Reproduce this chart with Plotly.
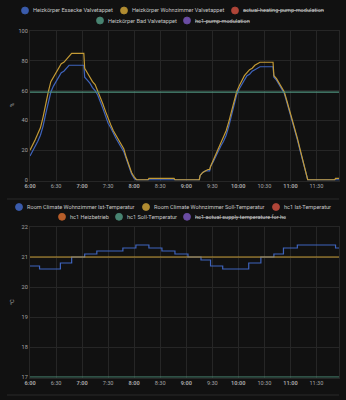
import plotly.graph_objects as go

W, H = 346, 400
DAY = "2024-01-15"
X_START, X_END = "6:00", "11:56"

TIME_TICKS = ["6:00", "6:30", "7:00", "7:30", "8:00", "8:30", "9:00",
              "9:30", "10:00", "10:30", "11:00", "11:30"]
VALVE_TICKS = [0, 20, 40, 60, 80, 100]
TEMP_TICKS = [17, 18, 19, 20, 21, 22]

# ---- valve positions (%) ----
ESSECKE = [("6:00", 16), ("6:03", 19), ("6:06", 22), ("6:09", 26), ("6:12", 30),
           ("6:15", 36), ("6:18", 44), ("6:21", 52), ("6:24", 59), ("6:27", 63),
           ("6:30", 66), ("6:33", 69), ("6:36", 72), ("6:39", 73), ("6:42", 75),
           ("6:45", 77), ("7:02", 77), ("7:03", 69), ("7:06", 67), ("7:09", 65),
           ("7:12", 62), ("7:15", 60), ("7:18", 57), ("7:21", 53), ("7:24", 48),
           ("7:27", 43), ("7:30", 38), ("7:33", 35), ("7:36", 31), ("7:39", 28),
           ("7:42", 25), ("7:45", 22), ("7:48", 19), ("7:51", 14), ("7:54", 9),
           ("7:57", 4), ("8:00", 1), ("8:02", 0), ("9:15", 0), ("9:16", 3),
           ("9:19", 5), ("9:22", 6), ("9:27", 6), ("9:28", 9), ("9:31", 12),
           ("9:34", 16), ("9:37", 20), ("9:40", 23), ("9:43", 26), ("9:46", 30),
           ("9:49", 36), ("9:52", 43), ("9:55", 51), ("9:58", 57), ("10:01", 61),
           ("10:04", 64), ("10:07", 67), ("10:10", 70), ("10:13", 71), ("10:16", 73),
           ("10:19", 74), ("10:22", 75), ("10:25", 76), ("10:40", 76), ("10:41", 69),
           ("10:44", 67), ("10:47", 64), ("10:50", 61), ("10:53", 58), ("10:56", 52),
           ("10:59", 46), ("11:02", 40), ("11:05", 33), ("11:08", 27), ("11:11", 20),
           ("11:14", 13), ("11:17", 6), ("11:20", 0), ("11:56", 0)]

WOHNZIMMER = [("6:00", 20), ("6:03", 23), ("6:06", 27), ("6:09", 31), ("6:12", 35),
              ("6:15", 42), ("6:18", 51), ("6:21", 59), ("6:24", 66), ("6:27", 69),
              ("6:30", 72), ("6:33", 75), ("6:36", 78), ("6:39", 79), ("6:42", 81),
              ("6:45", 83), ("6:48", 85), ("7:02", 85), ("7:03", 75), ("7:06", 72),
              ("7:09", 69), ("7:12", 66), ("7:15", 64), ("7:18", 60), ("7:21", 56),
              ("7:24", 51), ("7:27", 46), ("7:30", 41), ("7:33", 37), ("7:36", 33),
              ("7:39", 30), ("7:42", 27), ("7:45", 24), ("7:48", 21), ("7:51", 15),
              ("7:54", 10), ("7:57", 5), ("8:00", 2), ("8:03", 0), ("8:16", 0),
              ("8:17", 1), ("8:46", 1), ("8:47", 0), ("9:15", 0), ("9:16", 3),
              ("9:19", 5), ("9:22", 6), ("9:25", 7), ("9:27", 7), ("9:28", 9),
              ("9:31", 13), ("9:34", 17), ("9:37", 21), ("9:40", 24), ("9:43", 28),
              ("9:46", 33), ("9:49", 39), ("9:52", 46), ("9:55", 53), ("9:58", 59),
              ("10:01", 63), ("10:04", 67), ("10:07", 70), ("10:10", 72), ("10:13", 74),
              ("10:16", 75), ("10:19", 77), ("10:22", 78), ("10:25", 79), ("10:40", 79),
              ("10:41", 70), ("10:44", 68), ("10:47", 65), ("10:50", 62), ("10:53", 59),
              ("10:56", 53), ("10:59", 47), ("11:02", 41), ("11:05", 34), ("11:08", 28),
              ("11:11", 21), ("11:14", 14), ("11:17", 7), ("11:20", 0), ("11:51", 0),
              ("11:52", 1), ("11:56", 1)]

BAD = [("6:00", 59), ("11:56", 59)]

# ---- room temperatures (°C) ----
WZ_IST = [("6:00", 20.7), ("6:11", 20.6), ("6:35", 20.8), ("6:48", 21.0), ("7:03", 21.1),
          ("7:17", 21.2), ("7:47", 21.3), ("8:02", 21.4), ("8:17", 21.3), ("8:32", 21.2),
          ("8:47", 21.1), ("9:02", 21.0), ("9:17", 20.9), ("9:28", 20.7), ("9:42", 20.6),
          ("10:12", 20.8), ("10:26", 21.0), ("10:41", 21.1), ("10:52", 21.3), ("11:08", 21.4),
          ("11:52", 21.3), ("11:56", 21.3)]
WZ_SOLL = [("6:00", 21.0), ("11:56", 21.0)]
HC1_SOLL = [("6:00", 17.0), ("11:56", 17.0)]

BLUE, GOLD, RED = "#3f64bd", "#c39a35", "#c14b3d"
TEAL, PURPLE, ORANGE = "#4f917c", "#7453b3", "#c9662c"

# legend rows: (name, colour, hidden, circle x px, row y px)
VALVE_LEGEND = [
    ("Heizkörper Essecke Valvetappet", BLUE, False, 25, 10.5),
    ("Heizkörper Wohnzimmer Valvetappet", GOLD, False, 124, 10.5),
    ("actual-heating-pump-modulation", RED, True, 235, 10.5),
    ("Heizkörper Bad Valvetappet", TEAL, False, 100, 20.5),
    ("hc1-pump-modulation", PURPLE, True, 187, 20.5),
]
TEMP_LEGEND = [
    ("Room Climate Wohnzimmer Ist-Temperatur", BLUE, False, 19, 207),
    ("Room Climate Wohnzimmer Soll-Temperatur", GOLD, False, 146, 207),
    ("hc1 Ist-Temperatur", RED, False, 276, 207),
    ("hc1 Heizbetrieb", ORANGE, False, 62, 216.8),
    ("hc1 Soll-Temperatur", TEAL, False, 119, 216.8),
    ("hc1 actual supply temperature for hc", PURPLE, True, 187, 216.8),
]

BG = "#111111"
GRID = "#262626"
TICK_FONT = dict(family="Roboto, sans-serif", size=5.6, color="#a3a3a3")
LEGEND_FONT = dict(family="Roboto, sans-serif", size=5.6, color="#c6c6c6")


def stamp(hm):
    h, m = hm.split(":")
    return f"{DAY} {int(h):02d}:{m}:00"


def tick_text(hm):
    return f"<b>{hm}</b>" if hm.endswith(":00") else hm


def series(points):
    return [stamp(t) for t, _ in points], [v for _, v in points]


def px_x(px):
    return px / W


def px_y(py):
    return 1 - py / H


fig = go.Figure()


def add_line(points, name, color, xa, ya, shape):
    xs, ys = series(points)
    fig.add_trace(go.Scatter(x=xs, y=ys, name=name, mode="lines",
                             line=dict(color=color, width=1.2, shape=shape),
                             xaxis=xa, yaxis=ya, showlegend=False,
                             hoverinfo="skip"))


add_line(ESSECKE, VALVE_LEGEND[0][0], BLUE, "x", "y", "linear")
add_line(WOHNZIMMER, VALVE_LEGEND[1][0], GOLD, "x", "y", "linear")
add_line(BAD, VALVE_LEGEND[3][0], TEAL, "x", "y", "hv")

add_line(WZ_IST, TEMP_LEGEND[0][0], BLUE, "x2", "y2", "hv")
add_line(WZ_SOLL, TEMP_LEGEND[1][0], GOLD, "x2", "y2", "hv")
add_line(HC1_SOLL, TEMP_LEGEND[4][0], TEAL, "x2", "y2", "hv")

x_dom = [px_x(30), px_x(339)]
xaxis_common = dict(
    type="date",
    range=[stamp(X_START), stamp(X_END)],
    tickvals=[stamp(t) for t in TIME_TICKS],
    ticktext=[tick_text(t) for t in TIME_TICKS],
    showgrid=True, gridcolor=GRID, gridwidth=1, zeroline=False,
    showline=True, linecolor=GRID, mirror=True,
    tickfont=TICK_FONT, ticks="", automargin=False, domain=x_dom,
)
yaxis_common = dict(
    showgrid=True, gridcolor=GRID, gridwidth=1, zeroline=False,
    showline=True, linecolor=GRID, mirror=True,
    tickfont=TICK_FONT, ticks="", automargin=False,
)

shapes = []
annotations = []


def add_legend(entries):
    for name, color, hidden, cx, cy in entries:
        shapes.append(dict(
            type="circle", xref="paper", yref="paper",
            xsizemode="pixel", ysizemode="pixel",
            xanchor=px_x(cx), yanchor=px_y(cy),
            x0=-3.5, x1=3.5, y0=-3.5, y1=3.5,
            fillcolor=color, opacity=0.9,
            line=dict(color=color, width=0.8),
        ))
        label = f"<s>{name}</s>" if hidden else name
        annotations.append(dict(
            text=label, xref="paper", yref="paper",
            x=px_x(cx + 6), y=px_y(cy), xanchor="left", yanchor="middle",
            showarrow=False, font=LEGEND_FONT,
        ))


add_legend(VALVE_LEGEND)
add_legend(TEMP_LEGEND)

for title, py in (("%", 105), ("°C", 302)):
    annotations.append(dict(
        text=title, xref="paper", yref="paper", x=px_x(12), y=px_y(py),
        xanchor="center", yanchor="middle", textangle=-90, showarrow=False,
        font=TICK_FONT,
    ))

# card dividers
for py in (199, 395):
    shapes.append(dict(type="line", xref="paper", yref="paper",
                       x0=px_x(7), x1=px_x(339), y0=px_y(py), y1=px_y(py),
                       line=dict(color="#2a2a2a", width=1)))

fig.update_layout(
    width=W, height=H,
    margin=dict(l=0, r=0, t=0, b=0),
    paper_bgcolor=BG, plot_bgcolor=BG,
    showlegend=False,
    xaxis=dict(xaxis_common, anchor="y"),
    yaxis=dict(yaxis_common, range=[-0.4, 100], tickvals=VALVE_TICKS,
               domain=[px_y(180.5), px_y(31)], anchor="x"),
    xaxis2=dict(xaxis_common, anchor="y2"),
    yaxis2=dict(yaxis_common, range=[16.985, 22], tickvals=TEMP_TICKS,
                domain=[px_y(377.5), px_y(227)], anchor="x2"),
    shapes=shapes,
    annotations=annotations,
)

fig.write_html("out.html")
